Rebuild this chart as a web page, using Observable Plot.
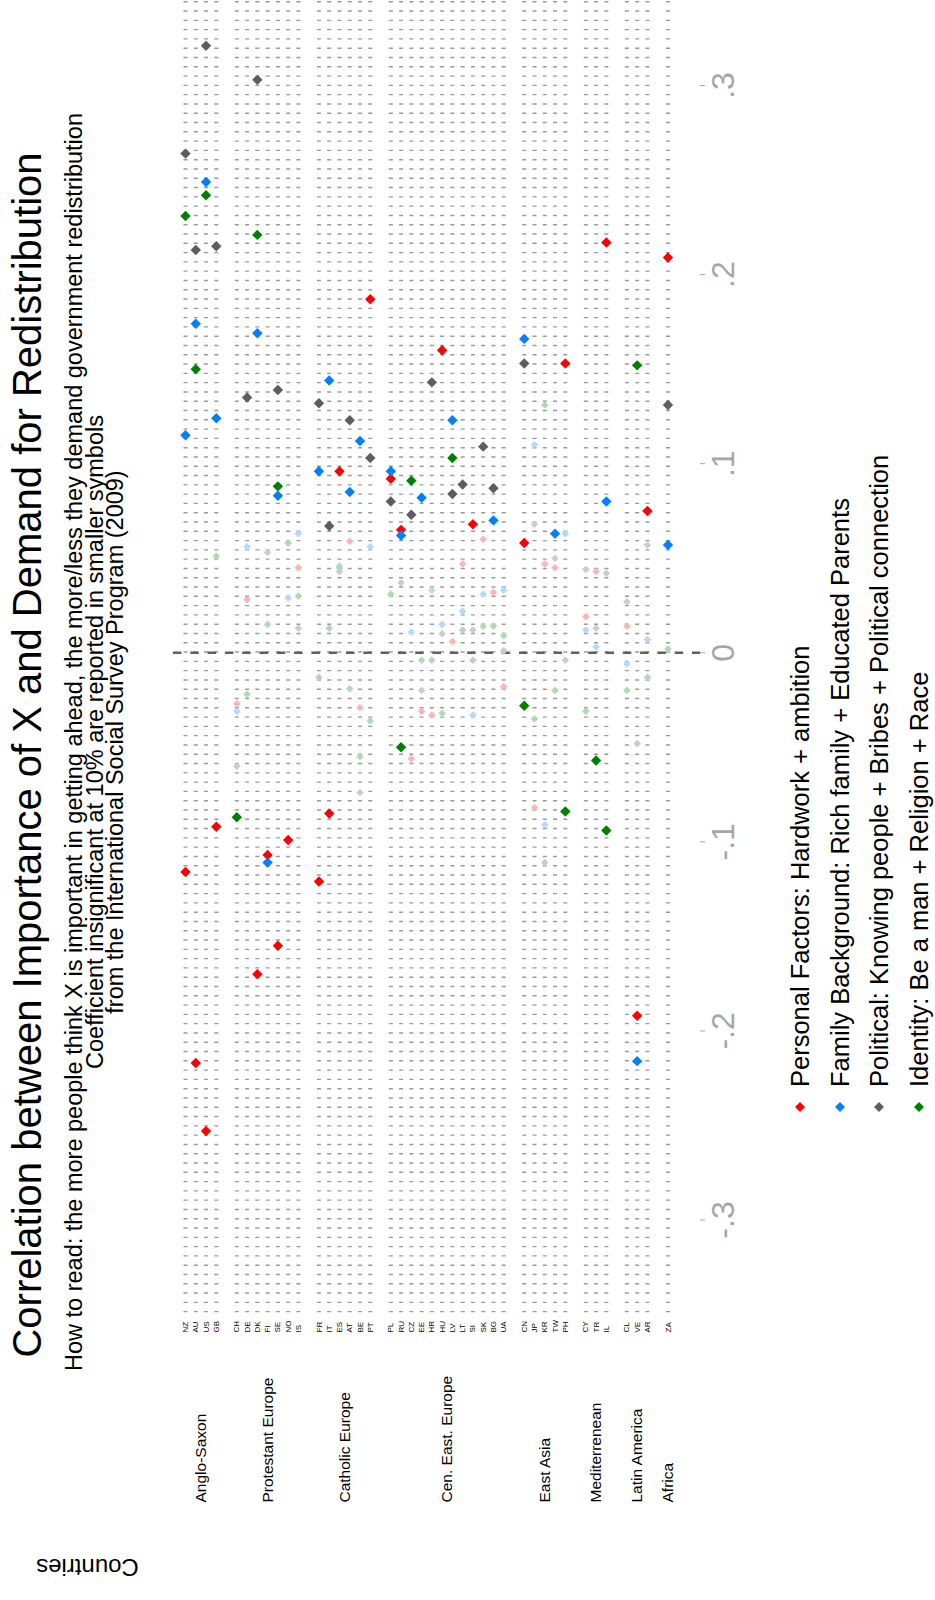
<!DOCTYPE html>
<html><head><meta charset="utf-8">
<script src="https://cdn.jsdelivr.net/npm/d3@7"></script>
<script src="https://cdn.jsdelivr.net/npm/@observablehq/plot@0.6"></script>
<style>
html,body{margin:0;padding:0;background:#fff;}
#page{position:relative;width:935px;height:1600px;overflow:hidden;background:#fff;}
#land{position:absolute;left:0;top:0;width:1600px;height:935px;transform-origin:0 0;transform:translate(0,1600px) rotate(-90deg);font-family:"Liberation Sans",Arial,Helvetica,sans-serif;color:#000;}
#land svg.plot{position:absolute;left:0;top:0;}
.abs{position:absolute;white-space:nowrap;}
#title{left:145px;width:1400px;top:7px;text-align:center;font-size:40px;line-height:40px;}
#sub{left:158px;width:1400px;top:64px;text-align:center;font-size:23.5px;line-height:20.5px;}
.legtext{font-size:25.5px;line-height:25.5px;}
</style></head><body>
<div id="page"><div id="land">
<div id="plotholder"></div>
<div id="title" class="abs">Correlation between Importance of X and Demand for Redistribution</div>
<div id="sub" class="abs">How to read: the more people think X is important in getting ahead, the more/less they demand government redistribution<br>Coefficient insignificant at 10% are reported in smaller symbols<br>from the International Social Survey Program (2009)</div>
<div id="legend"></div>
</div></div>
<script>
// ---- data ----
const codes = ["NZ","AU","US","GB","CH","DE","DK","FI","SE","NO","IS","FR","IT","ES","AT","BE","PT","PL","RU","CZ","EE","HR","HU","LV","LT","SI","SK","BG","UA","CN","JP","KR","TW","PH","CY","TR","IL","CL","VE","AR","ZA"];
const regionOf = [0,0,0,0,1,1,1,1,1,1,1,2,2,2,2,2,2,3,3,3,3,3,3,3,3,3,3,3,3,4,4,4,4,4,5,5,5,6,6,6,7];
const groupNames = ["Anglo-Saxon","Protestant Europe","Catholic Europe","Cen. East. Europe","East Asia","Mediterrenean","Latin America","Africa"];
const seriesNames = ["Personal Factors: Hardwork + ambition","Family Background: Rich family + Educated Parents","Political: Knowing people + Bribes + Political connection","Identity: Be a man + Religion + Race"];

const personal    = [-0.116,-0.217,-0.253,-0.092,-0.027,0.028,-0.170,-0.107,-0.155,-0.099,0.045,-0.121,-0.085,0.096,0.059,-0.029,0.187,0.092,0.065,-0.056,-0.031,-0.033,0.160,0.006,0.047,0.068,0.060,0.032,-0.018,0.058,-0.082,0.047,0.045,0.153,0.019,0.043,0.217,0.014,-0.192,0.075,0.209];
const personalSig = [1,1,1,1,0,0,1,1,1,1,0,1,1,1,0,0,1,1,1,0,0,0,1,0,0,1,0,0,0,1,0,0,0,1,0,0,1,0,1,1,1];
const family      = [0.115,0.174,0.249,0.124,-0.031,0.056,0.169,-0.111,0.083,0.029,0.063,0.096,0.144,0.046,0.085,0.112,0.056,0.096,0.062,0.011,0.082,0.033,0.015,0.123,0.022,-0.033,0.031,0.070,0.033,0.166,0.110,-0.091,0.063,0.063,0.012,0.003,0.080,-0.006,-0.216,0.007,0.057];
const familySig   = [1,1,1,1,0,0,1,1,1,0,0,1,1,0,1,1,0,1,1,0,1,0,0,1,0,0,0,1,0,1,0,0,1,0,0,0,1,0,1,0,1];
const political   = [0.264,0.213,0.321,0.215,-0.060,0.135,0.303,0.053,0.139,0.058,0.013,0.132,0.067,0.043,0.123,-0.074,0.103,0.080,0.037,0.073,-0.020,0.143,0.010,0.084,0.089,0.012,0.109,0.087,0.001,0.153,0.068,-0.111,0.050,-0.004,0.044,0.013,0.042,0.027,-0.048,0.057,0.131];
const politicalSig= [1,1,1,1,0,1,1,0,1,0,0,1,1,0,1,0,1,1,0,1,0,1,0,1,1,0,1,1,0,1,0,0,0,0,0,0,0,0,0,0,1];
const identity    = [0.231,0.150,0.242,0.051,-0.087,-0.022,0.221,0.015,0.088,0.058,0.030,-0.013,0.013,0.045,-0.019,-0.055,-0.036,0.031,-0.050,0.091,-0.004,-0.004,-0.032,0.103,0.012,-0.004,0.014,0.014,0.009,-0.028,-0.035,0.131,-0.020,-0.084,-0.031,-0.057,-0.094,-0.020,0.152,-0.013,0.002];
const identitySig = [1,1,1,0,1,0,1,0,1,0,0,0,0,0,0,0,0,0,1,1,0,0,0,1,0,0,0,0,0,1,0,0,0,1,0,1,1,0,1,0,0];
const xTicks = [-0.3,-0.2,-0.1,0,0.1,0.2,0.3];

// ---- styles ----
const sigColors   = ["#ff0000","#0080ff","#5e5e5e","#008000"];
const insigColors = ["#ffb3b3","#b3d9ff","#cccccc","#b3d9b3"];
const font = '"Liberation Sans",Arial,Helvetica,sans-serif';

// ---- derived ----
const pos = [];
{ let r = -1, prev = null;
  codes.forEach((c, i) => { if (prev !== null && regionOf[i] !== prev) r++; r++; pos.push(r); prev = regionOf[i]; }); }
const groups = groupNames.map((g, k) => ({name: g, y: d3.mean(pos.filter((p, i) => regionOf[i] === k))}));
const values = [personal, family, political, identity];
const sigs = [personalSig, familySig, politicalSig, identitySig];
const rows = [];
values.forEach((vals, s) => vals.forEach((v, i) => rows.push({s, code: codes[i], y: pos[i], v, sig: sigs[s][i] === 1})));

const fmt = d => d === 0 ? "0" : (d < 0 ? "-" : "") + "." + Math.round(Math.abs(d) * 10);

const chart = Plot.plot({
  width: 1600, height: 935,
  marginLeft: 285, marginRight: 0, marginTop: 160, marginBottom: 235,
  style: {fontFamily: font, background: "transparent", overflow: "visible"},
  x: {domain: [-0.35, 0.3455]},
  y: {domain: [-2.435, 50.17], reverse: true, axis: null},
  marks: [
    Plot.ruleY(pos, {y: d => d, x1: -0.3486, x2: 0.3455, stroke: "#9a9a9a", strokeWidth: 4, strokeDasharray: "1.4,7.89"}),
    Plot.ruleX([0], {x: d => d, y1: -1.17, y2: 50.17, stroke: "#606060", strokeWidth: 2.6, strokeDasharray: "8.5,8.8"}),
    ...[0,1,2,3].map(s => Plot.dot(rows.filter(d => d.s === s && !d.sig), {x: "v", y: "y", symbol: "diamond2", r: 3.4, fill: insigColors[s]})),
    ...[0,1,2,3].map(s => Plot.dot(rows.filter(d => d.s === s && d.sig), {x: "v", y: "y", symbol: "diamond2", r: 4.7, fill: sigColors[s]})),
    Plot.text(codes, {y: (d, i) => pos[i], text: d => d, frameAnchor: "left", dx: -18, textAnchor: "start", fontSize: 8, fill: "#000"}),
    Plot.text(groups, {y: "y", text: "name", frameAnchor: "left", dx: -188, textAnchor: "start", fontSize: 15.5, fill: "#000"}),
    Plot.axisX({ticks: xTicks, tickFormat: fmt, tickSize: 5, tickPadding: 6, fontSize: 32, color: "#a6a6a6", label: null}),
    Plot.text(["Countries"], {frameAnchor: "top-left", dx: -252, dy: -73, rotate: -90, textAnchor: "middle", lineAnchor: "middle", fontSize: 24, fill: "#000", text: d => d})
  ]
});
chart.classList.add("plot");
document.getElementById("plotholder").appendChild(chart);

// legend
const legY = [800, 840, 879, 919];
const leg = document.getElementById("legend");
seriesNames.forEach((name, s) => {
  const yc = legY[s];
  const sv = document.createElementNS("http://www.w3.org/2000/svg", "svg");
  sv.setAttribute("width", 14); sv.setAttribute("height", 14);
  sv.style.position = "absolute"; sv.style.left = (493 - 7) + "px"; sv.style.top = (yc - 7) + "px";
  const p = document.createElementNS("http://www.w3.org/2000/svg", "polygon");
  p.setAttribute("points", "7,2 12,7 7,12 2,7");
  p.setAttribute("fill", sigColors[s]);
  sv.appendChild(p); leg.appendChild(sv);
  const t = document.createElement("div");
  t.className = "abs legtext"; t.textContent = name;
  t.style.left = "513px"; t.style.top = (yc - 12.5) + "px";
  leg.appendChild(t);
});
</script>
</body></html>
